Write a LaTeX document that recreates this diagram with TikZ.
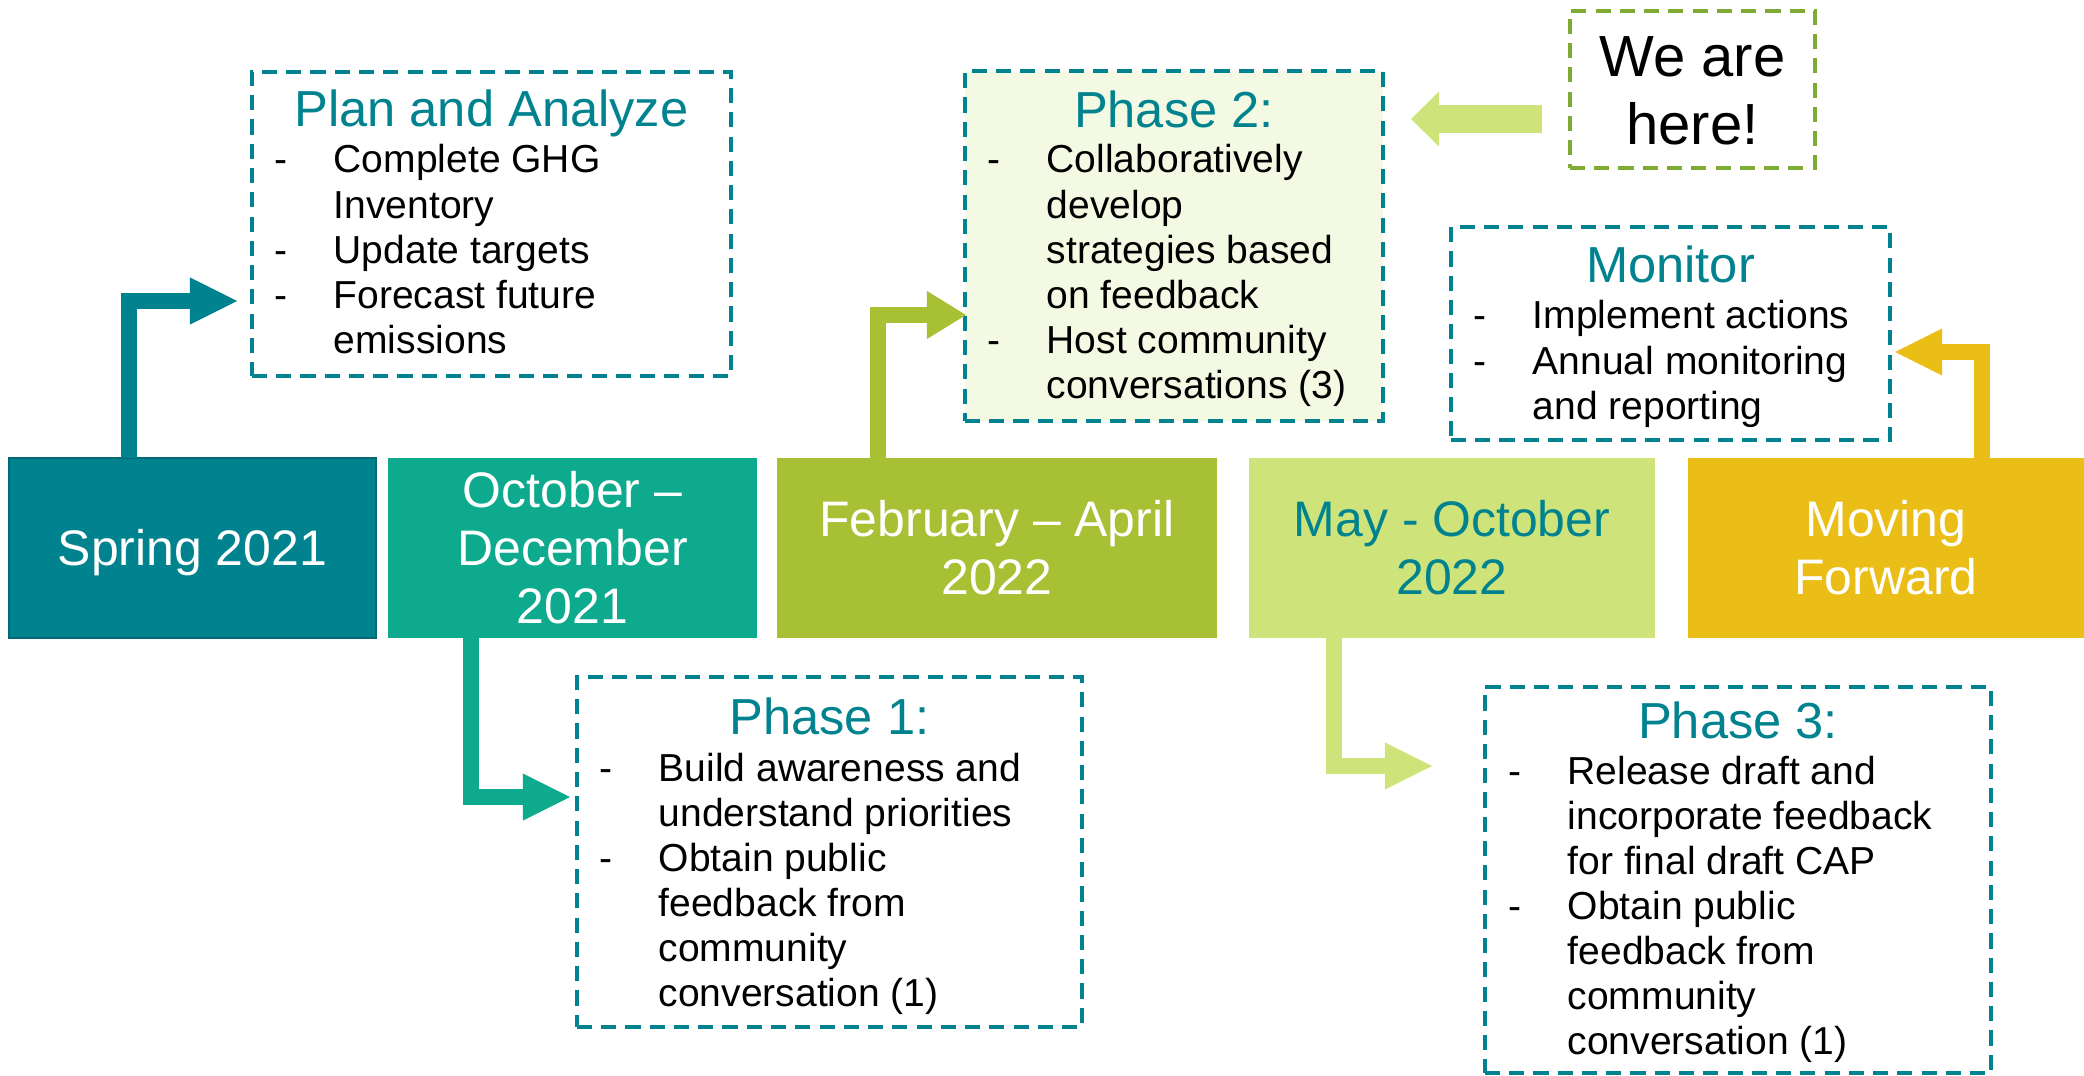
\documentclass[tikz,border=0pt]{standalone}
\usepackage{fontspec}
\setmainfont{Liberation Sans}
\usetikzlibrary{arrows.meta}
\definecolor{cteal}{RGB}{0,131,143}
\definecolor{ctealdk}{RGB}{0,104,114}
\definecolor{cgreen}{RGB}{13,170,142}
\definecolor{colive}{RGB}{168,192,52}
\definecolor{clime}{RGB}{206,228,122}
\definecolor{cgold}{RGB}{235,190,23}
\definecolor{cpale}{RGB}{243,249,227}
\definecolor{cdash}{RGB}{127,171,53}
\begin{document}
\begin{tikzpicture}[x=0.01cm,y=-0.01cm,
  bbox/.style={rectangle, inner sep=0pt, outer sep=0pt, minimum height=1.8cm,
    font=\fontsize{14.2}{16.5}\selectfont, text height=10.2pt},
  lone/.style={text depth=0pt},
  ltwo/.style={text depth=16.5pt},
  lthree/.style={text depth=33pt},
  dbox/.style={rectangle, draw=cteal, line width=1.1pt, dash pattern=on 4.3pt off 2.6pt,
    inner sep=0pt, outer sep=0pt},
  ttl/.style={text=cteal, font=\fontsize{14.4}{16}\selectfont, anchor=base, inner sep=0pt},
  bdy/.style={font=\fontsize{11.1}{12.8}\selectfont, anchor=base west, inner sep=0pt},
  arr/.style={line width=4.55pt, line join=miter, line cap=butt},
  tip/.style={-{Triangle[length=4.7mm, width=4.7mm, line width=0pt]}}
]
\useasboundingbox (0,0) rectangle (2084,1076);

% timeline boxes
\node[bbox, lone, fill=cteal, draw=ctealdk, line width=0.6pt, minimum width=3.67cm, text=white] (sp) at (192.5,548)
  {\begin{tabular}[t]{@{}c@{}}Spring 2021\end{tabular}};
\node[bbox, lthree, fill=cgreen, minimum width=3.69cm, text=white] (oc) at (572.5,548)
  {\begin{tabular}[t]{@{}c@{}}October –\\December\\2021\end{tabular}};
\node[bbox, ltwo, fill=colive, minimum width=4.40cm, text=white] (fe) at (997,548)
  {\begin{tabular}[t]{@{}c@{}}February – April\\2022\end{tabular}};
\node[bbox, ltwo, fill=clime, minimum width=4.06cm, text=cteal] (ma) at (1452,548)
  {\begin{tabular}[t]{@{}c@{}}May - October\\2022\end{tabular}};
\node[bbox, ltwo, fill=cgold, minimum width=3.96cm, text=white] (mf) at (1886,548)
  {\begin{tabular}[t]{@{}c@{}}Moving\\Forward\end{tabular}};

% dashed boxes
\node[dbox, minimum width=4.79cm, minimum height=3.04cm] (plan) at (491.5,224) {};
\node[dbox, fill=cpale, minimum width=4.18cm, minimum height=3.50cm] (ph2) at (1174,246) {};
\node[dbox, draw=cdash, minimum width=2.45cm, minimum height=1.57cm, text height=11.8pt, text depth=19.3pt,
  font=\fontsize{16.5}{19.3}\selectfont] (here) at (1692.5,89.5)
  {\begin{tabular}[t]{@{}c@{}}We are\\here!\end{tabular}};
\node[dbox, minimum width=4.39cm, minimum height=2.13cm] (mon) at (1670.5,333.5) {};
\node[dbox, minimum width=5.05cm, minimum height=3.50cm] (ph1) at (829.5,852) {};
\node[dbox, minimum width=5.06cm, minimum height=3.86cm] (ph3) at (1738,880) {};

% titles
\node[ttl] (plant) at (491.5,127) {Plan and Analyze};
\node[ttl] (ph2t) at (1174,128) {Phase 2:};
\node[ttl] (mont) at (1670.5,283) {Monitor};
\node[ttl] (ph1t) at (829.5,734) {Phase 1:};
\node[ttl] (ph3t) at (1738,738) {Phase 3:};

% bodies
\node[bdy] (planb) at (274,173) {\begin{tabular}[t]{@{}p{0.59cm}@{}l@{}}
-&Complete GHG\\ &Inventory\\ -&Update targets\\ -&Forecast future\\ &emissions\end{tabular}};
\node[bdy] (ph2b) at (987,173) {\begin{tabular}[t]{@{}p{0.59cm}@{}l@{}}
-&Collaboratively\\ &develop\\ &strategies based\\ &on feedback\\ -&Host community\\ &conversations (3)\end{tabular}};
\node[bdy] (monb) at (1473,329) {\begin{tabular}[t]{@{}p{0.59cm}@{}l@{}}
-&Implement actions\\ -&Annual monitoring\\ &and reporting\end{tabular}};
\node[bdy] (ph1b) at (599,781) {\begin{tabular}[t]{@{}p{0.59cm}@{}l@{}}
-&Build awareness and\\ &understand priorities\\ -&Obtain public\\ &feedback from\\ &community\\ &conversation (1)\end{tabular}};
\node[bdy] (ph3b) at (1508,784) {\begin{tabular}[t]{@{}p{0.59cm}@{}l@{}}
-&Release draft and\\ &incorporate feedback\\ &for final draft CAP\\ -&Obtain public\\ &feedback from\\ &community\\ &conversation (1)\end{tabular}};

% arrow coordinates
\coordinate (k1) at (129,301);  \coordinate (t1) at (237,301);
\coordinate (k2) at (471,797);  \coordinate (t2) at (570,797);
\coordinate (k3) at (878,315);  \coordinate (t3) at (966,315);
\coordinate (k4) at (1334,766); \coordinate (t4) at (1432,766);
\coordinate (k5) at (1982,352); \coordinate (t5) at (1895,352);
\coordinate (h1) at (1542,119); \coordinate (h2) at (1411,119);

% arrows
\draw[arr, tip, cteal] (sp.north -| k1) |- (t1);
\draw[arr, tip, cgreen] (oc.south -| k2) |- (t2);
\draw[arr, colive, -{Triangle[length=3.9mm, width=4.8mm, line width=0pt]}] (fe.north -| k3) |- (t3);
\draw[arr, tip, clime] (ma.south -| k4) |- (t4);
\draw[arr, tip, cgold] (mf.north -| k5) |- (t5);
\draw[line width=7.7pt, line cap=butt, clime, -{Triangle[length=2.8mm, width=5.5mm, line width=0pt]}] (h1) -- (h2);
\end{tikzpicture}
\end{document}
